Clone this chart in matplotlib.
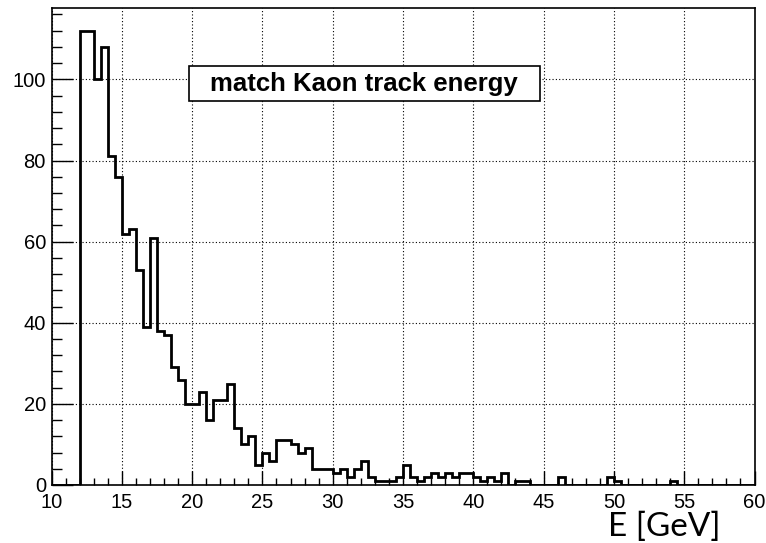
import numpy as np
import matplotlib.pyplot as plt
from matplotlib.patches import Rectangle
from matplotlib.ticker import MultipleLocator
from matplotlib.transforms import ScaledTranslation

# histogram: 100 bins of 0.5 GeV from 10 to 60
edges = np.linspace(10, 60, 101)
counts = [0, 0, 0, 0, 112, 112, 100, 108, 81, 76,      # 10.0 - 14.5
          62, 63, 53, 39, 61, 38, 37, 29, 26, 20,      # 15.0 - 19.5
          20, 23, 16, 21, 21, 25, 14, 10, 12, 5,       # 20.0 - 24.5
          8, 6, 11, 11, 10, 8, 9, 4, 4, 4,             # 25.0 - 29.5
          3, 4, 2, 4, 6, 2, 1, 1, 1, 2,                # 30.0 - 34.5
          5, 2, 1, 2, 3, 2, 3, 2, 3, 3,                # 35.0 - 39.5
          2, 1, 2, 1, 3, 0, 1, 1, 0, 0,                # 40.0 - 44.5
          0, 0, 2, 0, 0, 0, 0, 0, 0, 2,                # 45.0 - 49.5
          1, 0, 0, 0, 0, 0, 0, 0, 1, 0,                # 50.0 - 54.5
          0, 0, 0, 0, 0, 0, 0, 0, 0, 0]                # 55.0 - 59.5

title = "match Kaon track energy"
xlabel = "E [GeV]"

plt.rcParams['font.family'] = ['Liberation Sans', 'DejaVu Sans']

fig = plt.figure(figsize=(7.66, 5.43), dpi=100)
ax = fig.add_axes([51.5/766, 1-485/543, 703/766, 477/543])

ax.stairs(counts, edges, color='k', lw=2.0, zorder=3)

ax.set_xlim(10, 60)
ax.set_ylim(0, 117.6)
ax.xaxis.set_major_locator(MultipleLocator(5))
ax.xaxis.set_minor_locator(MultipleLocator(1))
ax.yaxis.set_major_locator(MultipleLocator(20))
ax.yaxis.set_minor_locator(MultipleLocator(4))
ax.tick_params(which='both', direction='in', top=False, right=False,
               labelsize=14.5, width=1, color='k')
ax.tick_params(axis='x', which='major', length=10, pad=6)
ax.tick_params(axis='x', which='minor', length=5)
ax.tick_params(axis='y', which='major', length=15, pad=4)
ax.tick_params(axis='y', which='minor', length=7.5)
ax.grid(True, which='major', color='k', linestyle=(0, (1, 2)), lw=0.8, zorder=0)
for s in ax.spines.values():
    s.set_linewidth(1.2)

# nudge the y "0" label up a little, ROOT-like corner
fig.canvas.draw()
lab0 = ax.get_yticklabels()[0]
lab0.set_transform(lab0.get_transform() + ScaledTranslation(0, 3/72, fig.dpi_scale_trans))

# title pave
fig.patches.append(Rectangle((189/766, 1-101/543), 351/766, 35/543,
                             transform=fig.transFigure, facecolor='white',
                             edgecolor='k', lw=1.2, zorder=5))
fig.text(364/766, 1-84/543, title, ha='center', va='center',
         fontsize=18.5, fontweight='bold', zorder=6)

fig.text(664/766, 1-527/543, xlabel, ha='center', va='center',
         fontsize=24, family=['Lato', 'DejaVu Sans'])

fig.savefig("out.png", dpi=100)
